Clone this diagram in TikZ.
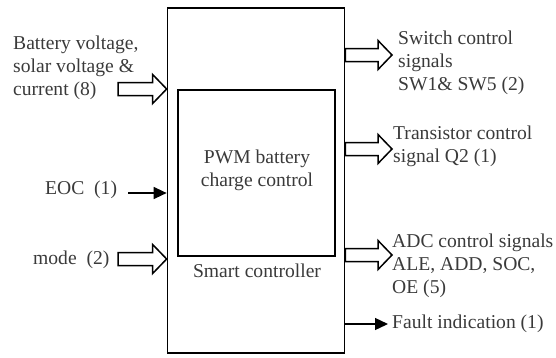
\documentclass[tikz,border=0pt]{standalone}
\usepackage{fontspec}
\setmainfont{Liberation Serif}
\usetikzlibrary{arrows.meta,calc}
\definecolor{txt}{HTML}{3A3A3A}
\tikzset{
  box/.style={draw=black, line width=1.7pt, inner sep=0pt},
  lbl/.style={text=txt, font=\fontsize{19.6}{22.8}\selectfont, align=left, inner sep=0pt},
  harrow/.style={draw=black, line width=1.5pt, line join=miter, fill=white},
  sarrow/.style={draw=black, line width=1.3pt, -{Triangle[length=13pt,width=12pt]}}
}
\newcommand\hollowarrow[2]{%
  \draw[harrow] let \p1=(#1), \p2=(#2) in
    (\x1,\y1+6.5pt) -- (\x2-14pt,\y1+6.5pt) -- (\x2-14pt,\y1+14.5pt) -- (\x2,\y1)
    -- (\x2-14pt,\y1-14.5pt) -- (\x2-14pt,\y1-6.5pt) -- (\x1,\y1-6.5pt) -- cycle;}
\begin{document}
\begin{tikzpicture}[x=1pt,y=-1pt]
\useasboundingbox (0,0) rectangle (556,357);
% boxes
\node[box, minimum width=177pt, minimum height=345pt] (outer) at (256,180.5) {};
\node[box, minimum width=157pt, minimum height=166pt] (inner) at (256.5,173) {};
\node[lbl, align=center] (pwm) at (257,170) {PWM battery\\charge control};
\node[lbl] (smart) at (257,271) {Smart controller};
% left inputs
\node[lbl, anchor=west] (bv) at (13,68) {Battery voltage,\\solar voltage \&\\current (8)};
\coordinate (bvs) at (118,89);
\hollowarrow{bvs}{outer.west |- bvs}
\node[lbl, anchor=west] (eoc) at (45,190) {EOC\ \ (1)};
\coordinate (eocs) at (128,193);
\draw[sarrow] (eocs) -- (outer.west |- eocs);
\node[lbl, anchor=west] (mode) at (33,260) {mode\ \ (2)};
\coordinate (modes) at (118,259);
\hollowarrow{modes}{outer.west |- modes}
% right outputs
\coordinate (swt) at (392,55);
\hollowarrow{outer.east |- swt}{swt}
\node[lbl, anchor=west] (sw) at (398,63) {Switch control\\signals\\SW1\& SW5 (2)};
\coordinate (trt) at (392,149);
\hollowarrow{outer.east |- trt}{trt}
\node[lbl, anchor=west] (tr) at (393,146) {Transistor control\\signal Q2 (1)};
\coordinate (adt) at (392,255);
\hollowarrow{outer.east |- adt}{adt}
\node[lbl, anchor=west] (adc) at (392,266) {ADC control signals\\ALE, ADD, SOC,\\OE (5)};
\coordinate (ft) at (388,324);
\draw[sarrow] (outer.east |- ft) -- (ft);
\node[lbl, anchor=west] (fault) at (392,324) {Fault indication (1)};
\end{tikzpicture}
\end{document}
